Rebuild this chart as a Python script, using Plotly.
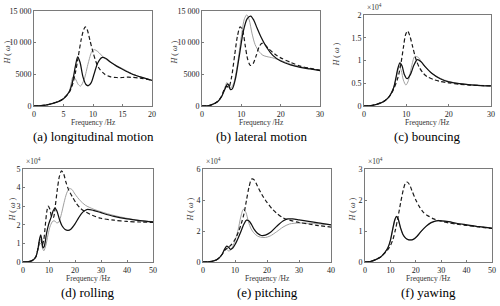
import plotly.graph_objects as go

# ---------------- data ----------------
# (a) longitudinal motion
a_blk_x = [0, 2, 4, 5, 6, 6.5, 7, 7.4, 7.8, 8.3, 8.8, 9.2, 9.7, 10.2, 10.8, 11.5, 12.2, 13, 14, 15, 16.5, 18, 20]
a_blk_y = [0, 150, 650, 1150, 2300, 3700, 6200, 7750, 6900, 4600, 3400, 3200, 3700, 5100, 6800, 7650, 7500, 6900, 6300, 5800, 5100, 4600, 4050]
a_gry_x = [0, 2, 4, 5, 6, 6.3, 6.6, 7.0, 7.5, 7.9, 8.5, 9.2, 9.8, 10.2, 10.8, 12, 13, 14, 15, 16.5, 18, 20]
a_gry_y = [0, 150, 650, 1150, 2400, 3600, 4600, 4300, 3400, 3150, 4200, 6800, 8600, 8900, 8600, 7500, 6900, 6350, 5900, 5150, 4600, 4050]
a_dsh_x = [0, 2, 4, 5, 6, 6.5, 7, 7.5, 8, 8.4, 8.7, 9, 9.5, 10, 10.5, 11, 12, 13, 14, 15, 16, 18, 20]
a_dsh_y = [0, 150, 650, 1200, 2200, 3300, 5200, 7800, 10500, 12000, 12500, 12100, 10300, 8500, 7000, 6000, 5000, 4600, 4500, 4500, 4550, 4400, 4050]

# (b) lateral motion
b_blk_x = [0, 2, 4, 5, 5.5, 6, 6.5, 6.8, 7.2, 7.7, 8.5, 9.5, 10.5, 11.5, 12.4, 13.2, 14, 15, 16.5, 18, 20, 22.5, 25, 27.5, 30]
b_blk_y = [0, 100, 700, 1500, 2200, 2900, 3500, 3300, 2600, 2700, 4300, 8000, 11800, 13800, 14200, 13500, 12300, 10900, 9200, 8000, 7100, 6500, 6100, 5850, 5600]
b_gry_x = [0, 2, 4, 5, 5.5, 6, 6.3, 6.7, 7.2, 8, 9, 10, 10.8, 11.4, 12, 12.7, 13.5, 14.5, 15.5, 16.5, 18, 20, 22.5, 25, 27.5, 30]
b_gry_y = [0, 100, 700, 1500, 2300, 3200, 3700, 3400, 2800, 3500, 6500, 11000, 13800, 14400, 13600, 11500, 9700, 8600, 8000, 7800, 7600, 7200, 6600, 6200, 5900, 5650]
b_dsh_x = [0, 2, 4, 5, 5.5, 6, 6.4, 6.8, 7.5, 8.3, 9, 9.7, 10.3, 11, 11.6, 12.3, 13, 13.8, 14.5, 15.2, 16, 17, 18.5, 20, 22.5, 25, 27.5, 30]
b_dsh_y = [0, 100, 700, 1600, 2400, 3000, 3100, 2900, 4500, 8000, 11000, 12500, 12000, 9500, 7400, 6400, 6700, 8000, 9300, 9900, 9700, 9000, 8200, 7600, 6900, 6300, 5950, 5650]

# (c) bouncing
c_blk_x = [0, 2, 4, 5, 6, 7, 7.5, 8, 8.5, 9, 9.5, 10.2, 11, 11.8, 12.6, 13.5, 14.5, 16, 18, 20, 22.5, 25, 27.5, 30]
c_blk_y = [0, 150, 700, 1200, 2100, 4000, 6000, 8300, 9500, 8800, 7000, 6000, 7000, 9000, 10200, 9700, 8600, 7200, 6000, 5300, 4900, 4650, 4500, 4400]
c_gry_x = [0, 2, 4, 5, 6, 7, 7.5, 8, 8.3, 8.8, 9.3, 9.9, 10.5, 11.2, 12, 12.8, 13.5, 14.5, 16, 18, 20, 22.5, 25, 27.5, 30]
c_gry_y = [0, 150, 700, 1200, 2100, 4000, 5800, 7800, 8700, 7800, 5700, 4600, 5600, 8500, 10900, 10700, 9800, 8500, 7200, 6100, 5400, 4950, 4700, 4550, 4450]
c_dsh_x = [0, 2, 4, 5, 6, 7, 8, 8.7, 9.3, 9.8, 10.3, 10.8, 11.5, 12.2, 13, 14, 15, 16.5, 18, 20, 22.5, 25, 27.5, 30]
c_dsh_y = [0, 150, 700, 1200, 2100, 3700, 6200, 9200, 12800, 15600, 16500, 15500, 13000, 10500, 8600, 7200, 6400, 5800, 5400, 5100, 4800, 4600, 4500, 4400]

# (d) rolling
d_blk_x = [0, 2, 3, 4, 5, 5.8, 6.4, 6.8, 7.2, 7.7, 8.2, 9, 9.8, 10.8, 11.6, 12.3, 13, 14, 15, 16.2, 17.3, 18.5, 20, 21.5, 23, 24.5, 27, 30, 35, 40, 45, 50]
d_blk_y = [0, 200, 500, 1200, 3000, 7500, 12500, 14600, 12000, 7600, 8500, 15000, 20000, 24000, 27500, 29000, 27500, 23000, 19500, 17500, 17000, 17800, 20500, 24000, 26800, 28200, 27800, 26500, 24500, 23200, 22300, 21600]
d_gry_x = [0, 2, 3, 4, 5, 5.8, 6.4, 6.9, 7.5, 8, 8.8, 9.6, 10.5, 11.5, 12.3, 13, 13.8, 14.8, 15.8, 16.8, 17.8, 18.8, 20, 22, 24, 27, 30, 35, 40, 45, 50]
d_gry_y = [0, 200, 500, 1200, 3000, 7000, 9500, 10000, 7500, 6000, 9000, 14500, 19500, 22000, 22000, 21000, 21500, 26000, 32000, 37000, 39500, 39000, 36500, 33000, 30500, 28500, 27000, 25000, 23500, 22300, 21700]
d_dsh_x = [0, 2, 3, 4, 5, 5.8, 6.4, 6.9, 7.4, 8, 8.6, 9.2, 9.7, 10.3, 11, 11.7, 12.4, 13.2, 14, 14.8, 15.6, 16.5, 17.5, 19, 20.5, 22, 24, 26, 30, 35, 40, 45, 50]
d_dsh_y = [0, 200, 500, 1200, 3000, 7500, 11500, 12000, 9000, 12000, 20000, 27500, 30000, 28500, 24500, 24000, 30000, 39000, 46000, 49000, 47500, 43000, 39000, 35000, 31500, 29000, 27000, 25500, 23500, 22500, 21800, 21500, 21300]

# (e) pitching
e_blk_x = [0, 2, 3, 4, 5, 6, 6.8, 7.4, 8, 8.6, 9.3, 10.2, 11, 12, 12.8, 13.6, 14.4, 15.2, 16, 17, 18.2, 19.5, 21, 23, 25, 26.5, 28, 30, 33, 36, 40]
e_blk_y = [0, 200, 500, 1200, 2600, 5000, 8500, 10300, 9500, 8200, 9000, 12000, 15500, 20500, 24500, 27000, 26500, 24000, 21000, 18500, 17100, 17300, 19000, 23000, 26500, 27800, 27800, 27200, 26200, 25200, 24000]
e_gry_x = [0, 2, 3, 4, 5, 6, 6.6, 7.2, 7.9, 8.6, 9.3, 10.2, 11, 11.8, 12.6, 13.4, 14.2, 15, 16, 17, 18, 19.5, 21, 23, 25, 27, 30, 33, 36, 40]
e_gry_y = [0, 200, 500, 1200, 2600, 5000, 7500, 8500, 7200, 7500, 10000, 15000, 21000, 29000, 34000, 32000, 26000, 21500, 18500, 16800, 16000, 15800, 16800, 19500, 22500, 24500, 25200, 25000, 24600, 24000]
e_dsh_x = [0, 2, 3, 4, 5, 6, 7, 8, 9, 10, 11, 12, 12.8, 13.6, 14.4, 15.2, 16, 17, 18, 19, 20, 21.5, 23, 25, 27, 30, 33, 36, 40]
e_dsh_y = [0, 200, 500, 1200, 2600, 5000, 8000, 9500, 11500, 14500, 19000, 25000, 31000, 40000, 48500, 53500, 53000, 49000, 45000, 41500, 38500, 34500, 31500, 28500, 27000, 25500, 24500, 23500, 22500]

# (f) yawing
f_blk_x = [0, 2, 4, 6, 7, 8, 9, 10, 11, 11.8, 12.4, 13, 14, 15, 16, 17, 17.8, 19, 20.5, 22, 24, 26, 28, 30, 33, 36, 40, 45, 50]
f_blk_y = [0, 150, 700, 1500, 2300, 3300, 4600, 7000, 11000, 13800, 14700, 14000, 11000, 8800, 7700, 7200, 7100, 7300, 8300, 9800, 11500, 12700, 13300, 13300, 13000, 12500, 12000, 11400, 10900]
f_gry_x = [0, 2, 4, 6, 7, 8, 9, 10, 11, 11.8, 12.4, 13, 14, 15, 16, 17, 17.8, 19, 20.5, 22, 24, 26, 28, 30, 33, 36, 40, 45, 50]
f_gry_y = [0, 150, 700, 1500, 2300, 3300, 4600, 6900, 10800, 13500, 14400, 13800, 10900, 8700, 7600, 7150, 7050, 7250, 8200, 9700, 11400, 12600, 13200, 13250, 12950, 12450, 11950, 11350, 10850]
f_dsh_x = [0, 2, 4, 6, 7, 8, 9, 10, 11, 12, 13, 14, 15, 15.8, 16.6, 17.5, 18.5, 20, 21.5, 23, 25, 27, 28.5, 30, 33, 36, 40, 45, 50]
f_dsh_y = [0, 150, 700, 1500, 2200, 3000, 4000, 5300, 7300, 10500, 14500, 19000, 23000, 25200, 25800, 25000, 23000, 20000, 17700, 16000, 14800, 13900, 13500, 13200, 12600, 12200, 11800, 11300, 10800]

captions = ["(a) longitudinal motion", "(b) lateral motion", "(c) bouncing",
            "(d) rolling", "(e) pitching", "(f) yawing"]
x_ranges = [20, 30, 30, 50, 40, 50]
x_ticks = [[0, 5, 10, 15, 20], [0, 10, 20, 30], [0, 10, 20, 30],
           [0, 10, 20, 30, 40, 50], [0, 10, 20, 30, 40], [0, 10, 20, 30, 40, 50]]
y_ranges = [15000, 15000, 20000, 50000, 60000, 30000]
y_tickvals = [[0, 5000, 10000, 15000], [0, 5000, 10000, 15000],
              [0, 5000, 10000, 15000, 20000], [0, 10000, 20000, 30000, 40000, 50000],
              [0, 20000, 40000, 60000], [0, 10000, 20000, 30000]]
y_ticktext = [["0", "5000", "10 000", "15 000"], ["0", "5000", "10 000", "15 000"],
              ["0", "0.5", "1", "1.5", "2"], ["0", "1", "2", "3", "4", "5"],
              ["0", "2", "4", "6"], ["0", "1", "2", "3"]]
has_exp = [False, False, True, True, True, True]

series = [
    (a_blk_x, a_blk_y, a_gry_x, a_gry_y, a_dsh_x, a_dsh_y),
    (b_blk_x, b_blk_y, b_gry_x, b_gry_y, b_dsh_x, b_dsh_y),
    (c_blk_x, c_blk_y, c_gry_x, c_gry_y, c_dsh_x, c_dsh_y),
    (d_blk_x, d_blk_y, d_gry_x, d_gry_y, d_dsh_x, d_dsh_y),
    (e_blk_x, e_blk_y, e_gry_x, e_gry_y, e_dsh_x, e_dsh_y),
    (f_blk_x, f_blk_y, f_gry_x, f_gry_y, f_dsh_x, f_dsh_y),
]

# ---------------- layout (pixel boxes) ----------------
W, H = 500, 306
boxes = [(34, 152, 11, 106), (202, 320, 11, 106), (364, 491, 15, 106),
         (23, 153, 169, 262), (203, 331, 169, 262), (365, 492, 169, 262)]
ytitle_x = [7, 174, 336, 12, 190, 352]

FONT = "Liberation Serif"
fig = go.Figure()
annotations = []

for i in range(6):
    n = "" if i == 0 else str(i + 1)
    xa, ya = "x" + n, "y" + n
    bx0, bx1, by0, by1 = boxes[i]
    bx, by, gx, gy, dx, dy = series[i]
    fig.add_trace(go.Scatter(x=gx, y=gy, mode="lines", xaxis=xa, yaxis=ya,
                             line=dict(color="#a0a0a0", width=1, shape="spline", smoothing=0.8),
                             showlegend=False, hoverinfo="skip"))
    fig.add_trace(go.Scatter(x=dx, y=dy, mode="lines", xaxis=xa, yaxis=ya,
                             line=dict(color="#1a1a1a", width=1.2, dash="4px,2.5px", shape="spline", smoothing=0.8),
                             showlegend=False, hoverinfo="skip"))
    fig.add_trace(go.Scatter(x=bx, y=by, mode="lines", xaxis=xa, yaxis=ya,
                             line=dict(color="#111111", width=1.25, shape="spline", smoothing=0.8),
                             showlegend=False, hoverinfo="skip"))
    axcommon = dict(showgrid=False, zeroline=False, showline=True, linecolor="#7a7a7a",
                    linewidth=1, mirror=True, ticks="inside", ticklen=2, tickcolor="#7a7a7a",
                    tickfont=dict(family=FONT, size=8, color="#222"), automargin=False)
    fig.update_layout(**{
        "xaxis" + n: dict(domain=[bx0 / W, bx1 / W], range=[0, x_ranges[i]],
                          tickvals=x_ticks[i], anchor=ya, **axcommon),
        "yaxis" + n: dict(domain=[1 - by1 / H, 1 - by0 / H], range=[0, y_ranges[i]],
                          tickvals=y_tickvals[i], ticktext=y_ticktext[i], anchor=xa, **axcommon),
    })
    cx = (bx0 + bx1) / 2
    annotations.append(dict(x=cx / W, y=1 - (by1 + 16) / H, xref="paper", yref="paper",
                            xanchor="center", yanchor="middle",
                            text="Frequency /Hz", showarrow=False,
                            font=dict(family=FONT, size=7.5, color="#333")))
    annotations.append(dict(x=cx / W, y=1 - (by1 + 30.5) / H, xref="paper", yref="paper",
                            xanchor="center", yanchor="middle",
                            text=captions[i], showarrow=False,
                            font=dict(family=FONT, size=13, color="#000")))
    annotations.append(dict(x=ytitle_x[i] / W, y=1 - ((by0 + by1) / 2 - 6) / H, xref="paper", yref="paper",
                            xanchor="center", yanchor="middle",
                            text="<i>H</i> ( <i>ω</i> )", showarrow=False, textangle=-90,
                            font=dict(family=FONT, size=8, color="#333")))
    if has_exp[i]:
        annotations.append(dict(x=(bx0 + 0.5) / W, y=1 - (by0 - 1) / H, xref="paper", yref="paper",
                                xanchor="left", yanchor="bottom",
                                text="×10<sup>4</sup>", showarrow=False,
                                font=dict(family=FONT, size=7.5, color="#333")))

fig.update_layout(width=W, height=H, margin=dict(l=0, r=0, t=0, b=0),
                  paper_bgcolor="white", plot_bgcolor="white",
                  annotations=annotations)
fig.write_html("out.html", config={"displayModeBar": False},
               post_script="document.body.style.margin='0';document.body.style.overflow='hidden';")
